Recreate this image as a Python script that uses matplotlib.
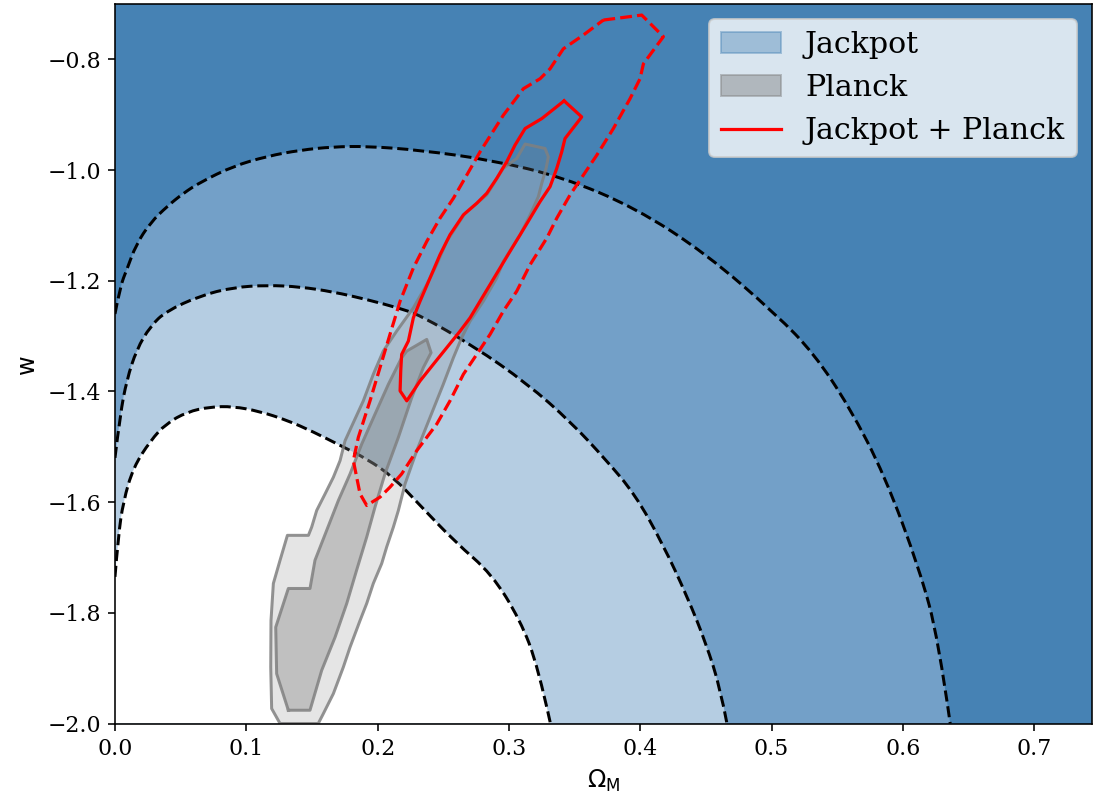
import numpy as np
import matplotlib
matplotlib.use("Agg")
import matplotlib.pyplot as plt
from matplotlib.patches import Patch, PathPatch
from matplotlib.lines import Line2D
from matplotlib.path import Path

# Jackpot confidence boundaries (dashed curves), outer -> inner
jp3_x = [0.0, 0.004, 0.009, 0.016, 0.027, 0.040, 0.052, 0.065, 0.090, 0.116, 0.141, 0.166,
         0.192, 0.232, 0.287, 0.341, 0.396, 0.450, 0.504, 0.532, 0.559, 0.586, 0.613, 0.627, 0.636]
jp3_y = [-1.26, -1.21, -1.18, -1.135, -1.095, -1.065, -1.042, -1.022, -0.993, -0.975, -0.964, -0.958,
         -0.957, -0.964, -0.982, -1.013, -1.068, -1.151, -1.262, -1.331, -1.427, -1.551, -1.724, -1.848, -2.0]

jp2_x = [0.0, 0.004, 0.009, 0.0165, 0.027, 0.039, 0.065, 0.090, 0.116, 0.141, 0.166, 0.192,
         0.217, 0.232, 0.273, 0.314, 0.347, 0.374, 0.396, 0.417, 0.436, 0.450, 0.461, 0.466]
jp2_y = [-1.52, -1.441, -1.379, -1.324, -1.282, -1.255, -1.227, -1.212, -1.208, -1.211, -1.220, -1.234,
         -1.250, -1.262, -1.318, -1.386, -1.455, -1.524, -1.586, -1.675, -1.772, -1.855, -1.937, -2.0]

jp1_x = [0.0, 0.0025, 0.0063, 0.014, 0.027, 0.039, 0.055, 0.072, 0.090, 0.110, 0.131, 0.151,
         0.171, 0.192, 0.212, 0.232, 0.259, 0.287, 0.3085, 0.322, 0.3316]
jp1_y = [-1.735, -1.662, -1.599, -1.537, -1.489, -1.458, -1.437, -1.428, -1.427, -1.436, -1.452, -1.473,
         -1.497, -1.522, -1.555, -1.605, -1.672, -1.730, -1.813, -1.896, -2.0]

# Planck contours
pl2_x = [0.1257, 0.1193, 0.1186, 0.1188, 0.1206, 0.1257, 0.1313, 0.1473, 0.1498, 0.1536, 0.1600,
         0.1663, 0.1714, 0.1752, 0.1891, 0.1967, 0.2043, 0.2145, 0.2272, 0.2374, 0.2450, 0.2526,
         0.2666, 0.2831, 0.2957, 0.3059, 0.3123, 0.3275, 0.3300, 0.3283, 0.3250, 0.3224, 0.3161,
         0.3085, 0.2957, 0.2907, 0.2805, 0.2704, 0.2640, 0.2577, 0.2500, 0.2399, 0.2298, 0.2209,
         0.2158, 0.2120, 0.2069, 0.2031, 0.1967, 0.1917, 0.1866, 0.1790, 0.1739, 0.1663, 0.1587, 0.1548]
pl2_y = [-2.0, -1.973, -1.898, -1.814, -1.747, -1.705, -1.660, -1.660, -1.645, -1.615, -1.585,
         -1.555, -1.525, -1.489, -1.417, -1.369, -1.327, -1.291, -1.249, -1.207, -1.171, -1.129,
         -1.078, -1.045, -0.997, -0.979, -0.953, -0.961, -0.976, -0.997, -1.024, -1.048, -1.081,
         -1.117, -1.165, -1.195, -1.237, -1.273, -1.303, -1.339, -1.387, -1.447, -1.507, -1.567,
         -1.615, -1.645, -1.681, -1.711, -1.747, -1.783, -1.814, -1.862, -1.898, -1.946, -1.982, -2.0]

pl1_x = [0.1320, 0.1231, 0.1224, 0.1320, 0.1485, 0.1523, 0.1612, 0.1701, 0.1790, 0.1879, 0.1980,
         0.2082, 0.2183, 0.2222, 0.2374, 0.2407, 0.2348, 0.2260, 0.2158, 0.2056, 0.1980, 0.1917,
         0.1840, 0.1765, 0.1676, 0.1574, 0.1485]
pl1_y = [-1.976, -1.910, -1.826, -1.756, -1.756, -1.705, -1.651, -1.597, -1.549, -1.495, -1.441,
         -1.387, -1.339, -1.327, -1.306, -1.330, -1.357, -1.411, -1.483, -1.549, -1.609, -1.663,
         -1.723, -1.783, -1.844, -1.904, -1.976]

# Jackpot + Planck contours
jpp1_x = [0.342, 0.3554, 0.3427, 0.3402, 0.3364, 0.3313, 0.3237, 0.3161, 0.3085, 0.3008, 0.2932,
          0.2856, 0.2780, 0.2704, 0.2628, 0.2526, 0.2424, 0.2323, 0.2222, 0.2171, 0.2176, 0.2183,
          0.2234, 0.2272, 0.2323, 0.2399, 0.2475, 0.2551, 0.2653, 0.2755, 0.2831, 0.2907, 0.2983,
          0.3046, 0.3123, 0.3250]
jpp1_y = [-0.875, -0.904, -0.943, -0.967, -0.997, -1.030, -1.057, -1.087, -1.117, -1.147, -1.177,
          -1.207, -1.237, -1.267, -1.291, -1.321, -1.351, -1.381, -1.417, -1.399, -1.363, -1.333,
          -1.309, -1.267, -1.237, -1.195, -1.153, -1.117, -1.081, -1.060, -1.042, -1.015, -0.985,
          -0.955, -0.925, -0.907]

jpp2_x = [0.3719, 0.4011, 0.4176, 0.4024, 0.3998, 0.3922, 0.3795, 0.3669, 0.3567, 0.3465, 0.3364,
          0.3288, 0.3161, 0.3059, 0.2957, 0.2856, 0.2755, 0.2653, 0.2551, 0.2450, 0.2298, 0.2183,
          0.2094, 0.2018, 0.1917, 0.1866, 0.1815, 0.1853, 0.1942, 0.2018, 0.2094, 0.2171, 0.2272,
          0.2374, 0.2475, 0.2577, 0.2679, 0.2780, 0.2957, 0.3110, 0.3237, 0.3313, 0.3414, 0.3567]
jpp2_y = [-0.729, -0.720, -0.759, -0.808, -0.835, -0.871, -0.925, -0.973, -1.009, -1.045, -1.087,
          -1.123, -1.171, -1.219, -1.255, -1.297, -1.333, -1.369, -1.417, -1.459, -1.507, -1.549,
          -1.573, -1.591, -1.606, -1.585, -1.525, -1.483, -1.417, -1.357, -1.297, -1.237, -1.177,
          -1.129, -1.087, -1.051, -1.009, -0.967, -0.901, -0.853, -0.835, -0.817, -0.781, -0.756]

x_ticks = [0.0, 0.1, 0.2, 0.3, 0.4, 0.5, 0.6, 0.7]
y_ticks = [-2.0, -1.8, -1.6, -1.4, -1.2, -1.0, -0.8]


def closed(xs, ys):
    return np.append(xs, xs[0]), np.append(ys, ys[0])


def curve_path(xs, ys, close_to=None):
    # quadratic bezier through midpoints of the read points
    pts = list(zip(xs, ys))
    verts, codes = [pts[0]], [Path.MOVETO]
    for i in range(1, len(pts) - 1):
        if i < len(pts) - 2:
            end = ((pts[i][0] + pts[i + 1][0]) / 2, (pts[i][1] + pts[i + 1][1]) / 2)
        else:
            end = pts[i + 1]
        verts += [pts[i], end]
        codes += [Path.CURVE3, Path.CURVE3]
    if close_to is not None:
        verts += [(xs[-1], close_to), (xs[0], close_to), pts[0]]
        codes += [Path.LINETO, Path.LINETO, Path.CLOSEPOLY]
    return Path(verts, codes)


plt.rcParams['font.family'] = 'serif'
plt.rcParams['font.serif'] = ['DejaVu Serif']
plt.rcParams['mathtext.fontset'] = 'dejavusans'

fig = plt.figure(figsize=(1094 / 144, 800 / 144), dpi=144)
ax = fig.add_axes([0.1051, 0.0956, 0.8931, 0.8994])

dark, mid, light = '#4682b4', '#73a0c8', '#b5cde2'
ax.set_facecolor(dark)
for (cx, cy), col in [((jp3_x, jp3_y), mid), ((jp2_x, jp2_y), light), ((jp1_x, jp1_y), 'white')]:
    ax.add_patch(PathPatch(curve_path(cx, cy, close_to=-2.0), facecolor=col, edgecolor='none'))
for cx, cy in [(jp3_x, jp3_y), (jp2_x, jp2_y), (jp1_x, jp1_y)]:
    ax.add_patch(PathPatch(curve_path(cx, cy), fill=False, edgecolor='black', lw=1.5, ls='--'))

# Planck
ax.fill(pl2_x, pl2_y, facecolor=(0.5, 0.5, 0.5, 0.2), edgecolor='none')
ax.fill(pl1_x, pl1_y, facecolor=(0.5, 0.5, 0.5, 0.36), edgecolor='none')
for px, py in [(pl2_x, pl2_y), (pl1_x, pl1_y)]:
    lx, ly = closed(px, py)
    ax.plot(lx, ly, color='gray', lw=1.5, alpha=0.85)

# Jackpot + Planck
lx, ly = closed(jpp1_x, jpp1_y)
ax.plot(lx, ly, color='red', lw=1.6)
lx, ly = closed(jpp2_x, jpp2_y)
ax.plot(lx, ly, color='red', lw=1.6, ls='--')

ax.set_xlim(0, 0.744)
ax.set_ylim(-2.0, -0.7)
ax.set_xticks(x_ticks)
ax.set_yticks(y_ticks)
ax.tick_params(labelsize=11)
ax.set_xlabel(r'$\Omega_{\rm M}$', fontsize=12)
ax.set_ylabel('w', fontsize=12, family='DejaVu Sans')

handles = [Patch(color='steelblue', alpha=0.4, label='Jackpot'),
           Patch(color='gray', alpha=0.45, label='Planck'),
           Line2D([], [], color='red', lw=1.6, label='Jackpot + Planck')]
ax.legend(handles=handles, loc='upper right', fontsize=15)

fig.savefig('out.png', dpi=144)
